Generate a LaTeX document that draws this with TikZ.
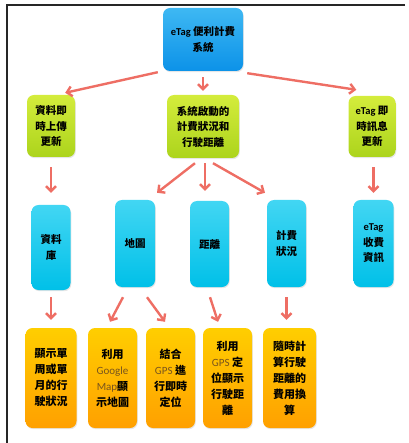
\documentclass[tikz,border=0pt]{standalone}
\usepackage{fontspec}
\newfontfamily\cjk{Noto Sans CJK TC}
\newfontfamily\latin{Carlito}
\usetikzlibrary{arrows.meta,shadows}

\definecolor{bluetop}{RGB}{62,184,243}
\definecolor{bluebot}{RGB}{12,146,232}
\definecolor{greentop}{RGB}{212,236,60}
\definecolor{greenbot}{RGB}{172,212,28}
\definecolor{cyantop}{RGB}{66,214,243}
\definecolor{cyanbot}{RGB}{0,192,232}
\definecolor{orangetop}{RGB}{255,206,0}
\definecolor{orangebot}{RGB}{255,160,0}
\definecolor{arrowred}{RGB}{238,110,100}
\definecolor{latbrown}{RGB}{120,84,30}

% latin words inside the boxes
\newcommand{\etag}{{\latin\bfseries eTag}}
\newcommand{\lw}[1]{{\latin\mdseries\color{latbrown}#1}}

\tikzset{
  box/.style={rounded corners=7pt, align=center, inner sep=0pt,
    drop shadow={opacity=0.2, shadow xshift=0.8pt, shadow yshift=-1.2pt},
    font=\cjk\bfseries\fontsize{10.5}{15.5}\selectfont},
  sysbox/.style={box, top color=bluetop, bottom color=bluebot},
  partbox/.style={box, top color=greentop, bottom color=greenbot},
  itembox/.style={box, top color=cyantop, bottom color=cyanbot},
  infobox/.style={box, top color=orangetop, bottom color=orangebot,
    font=\cjk\bfseries\fontsize{11}{16}\selectfont},
  arr/.style={-{Straight Barb[length=5pt,width=10pt]}, draw=arrowred,
    line width=2.4pt}
}

\begin{document}
\begin{tikzpicture}[x=1pt, y=-1pt]

\useasboundingbox (0,0) rectangle (408,443);
% frame of the page (top and left only)
\draw[line width=1.6pt, black!85] (405,5) -- (7,5) -- (7,443);

% top level
\node[sysbox, minimum width=80pt, minimum height=63pt] (sys) at (203,39.5)
  {\etag{} 便利計費\\系統};

% second level
\node[partbox, minimum width=48pt, minimum height=62pt] (upload) at (51,126)
  {資料即\\時上傳\\更新};
\node[partbox, minimum width=72pt, minimum height=63pt] (status) at (203,126.5)
  {系統啟動的\\計費狀況和\\行駛距離};
\node[partbox, minimum width=47pt, minimum height=61pt] (notify) at (372,126.5)
  {\etag{} 即\\時訊息\\更新};

% third level
\node[itembox, minimum width=39pt, minimum height=85pt] (db) at (51,247.5)
  {資料\\庫};
\node[itembox, minimum width=40pt, minimum height=87pt] (map) at (135,243.5)
  {地圖};
\node[itembox, minimum width=39pt, minimum height=86pt] (dist) at (209.5,244)
  {距離};
\node[itembox, minimum width=39pt, minimum height=87pt] (fee) at (286.5,243.5)
  {計費\\狀況};
\node[itembox, minimum width=40pt, minimum height=87pt] (toll) at (373.5,243.5)
  {\etag\\收費\\資訊};

% bottom level
\node[infobox, minimum width=51pt, minimum height=100pt] (week) at (51,378)
  {顯示單\\周或單\\月的行\\駛狀況};
\node[infobox, minimum width=49pt, minimum height=100pt] (gmap) at (112.5,378)
  {利用\\\lw{Google}\\\lw{Map}顯\\示地圖};
\node[infobox, minimum width=49pt, minimum height=100pt] (gps) at (170.5,378)
  {結合\\\lw{GPS} 進\\行即時\\定位};
\node[infobox, minimum width=49pt, minimum height=100pt] (track) at (227.5,378)
  {利用\\\lw{GPS} 定\\位顯示\\行駛距\\離};
\node[infobox, minimum width=53pt, minimum height=100pt] (cost) at (289.5,378)
  {隨時計\\算行駛\\距離的\\費用換\\算};

% arrows, top to second level
\draw[arr] ([xshift=-5pt,yshift=-1pt]sys.south west)
  -- ([xshift=-10pt,yshift=2pt]upload.north east);
\draw[arr, shorten <=6pt, shorten >=4pt] (sys.south) -- (status.north);
\draw[arr] ([xshift=4pt,yshift=-2pt]sys.south east)
  -- ([xshift=8pt,yshift=6pt]notify.north west);

% second to third level
\draw[arr, shorten <=10pt, shorten >=12pt] (upload.south) -- (db.north);
\draw[arr] ([xshift=-8pt,yshift=-5pt]status.south)
  -- ([xshift=22pt,yshift=7pt]map.north);
\draw[arr, shorten <=5pt, shorten >=10pt] ([xshift=2pt]status.south)
  -- ([xshift=-4.5pt]dist.north);
\draw[arr] ([xshift=10pt,yshift=-5pt]status.south)
  -- ([xshift=-21.5pt,yshift=7pt]fee.north);
\draw[arr, shorten <=10pt, shorten >=7pt] (toll.north |- notify.south)
  -- (toll.north);

% third to bottom level
\draw[arr, shorten <=7pt, shorten >=8pt] (db.south) -- (week.north);
\draw[arr] ([xshift=-12pt,yshift=-10pt]map.south)
  -- ([xshift=-2.5pt,yshift=6pt]gmap.north);
\draw[arr] ([xshift=12pt,yshift=-10pt]map.south)
  -- ([xshift=-5.5pt,yshift=6pt]gps.north);
\draw[arr] ([xshift=0.5pt,yshift=-10pt]dist.south)
  -- ([xshift=-9.5pt,yshift=6pt]track.north);
\draw[arr, shorten <=10pt, shorten >=8pt] (fee.south)
  -- (fee.south |- cost.north);

\end{tikzpicture}
\end{document}
